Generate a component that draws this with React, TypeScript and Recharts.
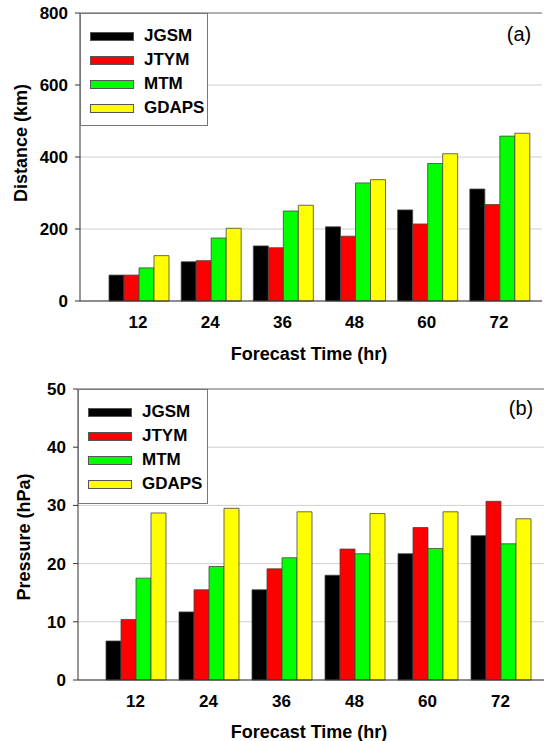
import React from "react";
import { BarChart, Bar, XAxis, YAxis, CartesianGrid, Legend, ReferenceLine } from "recharts";

const categories = ["12", "24", "36", "48", "60", "72"];
const seriesNames = ["JGSM", "JTYM", "MTM", "GDAPS"];
const seriesColors = ["#000000", "#ff0000", "#00ff00", "#ffff00"];

const distJGSM = [72, 109, 153, 206, 253, 311];
const distJTYM = [72, 112, 148, 180, 214, 268];
const distMTM = [92, 175, 250, 328, 382, 458];
const distGDAPS = [126, 202, 266, 337, 409, 466];

const presJGSM = [6.7, 11.7, 15.5, 18.0, 21.7, 24.8];
const presJTYM = [10.4, 15.5, 19.1, 22.5, 26.2, 30.7];
const presMTM = [17.5, 19.5, 21.0, 21.7, 22.6, 23.4];
const presGDAPS = [28.7, 29.5, 28.9, 28.6, 28.9, 27.7];

const distTicks = [0, 200, 400, 600, 800];
const presTicks = [0, 10, 20, 30, 40, 50];

const FONT = "'Liberation Sans', Arial, sans-serif";

const toRows = (cols: number[][]) =>
  categories.map((c, i) => {
    const row: Record<string, string | number> = { hr: c };
    seriesNames.forEach((n, j) => (row[n] = cols[j][i]));
    return row;
  });

const renderLegend = (props: any) => {
  const payload = [...((props.payload || []) as { value: string; color: string }[])].sort(
    (a, b) => seriesNames.indexOf(a.value) - seriesNames.indexOf(b.value)
  );
  return (
    <div
      style={{
        width: "100%",
        height: "100%",
        boxSizing: "border-box",
        border: "1px solid #777",
        background: "#fff",
        paddingTop: 10,
        fontFamily: FONT,
      }}
    >
      {payload.map((p) => (
        <div key={p.value} style={{ display: "flex", alignItems: "center", height: 24 }}>
          <div
            style={{
              marginLeft: 9,
              width: 44,
              height: 9,
              background: p.color,
              border: "1px solid #555",
              boxSizing: "border-box",
            }}
          />
          <span style={{ marginLeft: 10, fontSize: 17, fontWeight: "bold", color: "#000" }}>{p.value}</span>
        </div>
      ))}
    </div>
  );
};

interface PanelProps {
  data: Record<string, string | number>[];
  ticks: number[];
  yTitle: string;
  tag: string;
  height: number;
  margin: { top: number; right: number; bottom: number; left: number };
  pad: { left: number; right: number };
  legendBox: { left: number; top: number; width: number; height: number };
  titleX: number;
  titleY: number;
  xTitleX: number;
  xTitleY: number;
  tagX: number;
  tagY: number;
  gap: number;
}

function Panel(p: PanelProps) {
  const max = p.ticks[p.ticks.length - 1];
  return (
    <BarChart width={544} height={p.height} data={p.data} margin={p.margin} barGap={0} barCategoryGap={p.gap}>
      <CartesianGrid vertical={false} stroke="#cfcfcf" />
      <ReferenceLine y={max} stroke="#777" />
      <XAxis
        dataKey="hr"
        padding={p.pad}
        tickLine={false}
        tickSize={0}
        tickMargin={15}
        axisLine={{ stroke: "#333" }}
        tick={{ fill: "#000", fontSize: 17, fontWeight: "bold", fontFamily: FONT }}
      />
      <YAxis
        width={60}
        domain={[0, max]}
        ticks={p.ticks}
        tickSize={5}
        tickMargin={7}
        axisLine={{ stroke: "#333" }}
        tickLine={{ stroke: "#333" }}
        tick={{ fill: "#000", fontSize: 17, fontWeight: "bold", fontFamily: FONT }}
      />
      <YAxis yAxisId="frame" orientation="right" width={0} tick={false} tickLine={false} axisLine={{ stroke: "#555" }} />
      <Legend
        verticalAlign="middle"
        align="center"
        layout="vertical"
        content={renderLegend}
        wrapperStyle={{ ...p.legendBox }}
      />
      {seriesNames.map((n, i) => (
        <Bar key={n} dataKey={n} fill={seriesColors[i]} stroke="#444" strokeWidth={0.8} isAnimationActive={false} />
      ))}
      <text
        x={p.titleX}
        y={p.titleY}
        transform={`rotate(-90 ${p.titleX} ${p.titleY})`}
        textAnchor="middle"
        dominantBaseline="central"
        fontFamily={FONT}
        fontWeight="bold"
        fontSize={18}
        fill="#000"
      >
        {p.yTitle}
      </text>
      <text
        x={p.xTitleX}
        y={p.xTitleY}
        textAnchor="middle"
        dominantBaseline="central"
        fontFamily={FONT}
        fontWeight="bold"
        fontSize={18}
        fill="#000"
      >
        Forecast Time (hr)
      </text>
      <text x={p.tagX} y={p.tagY} textAnchor="middle" dominantBaseline="central" fontFamily={FONT} fontSize={20} fill="#000">
        {p.tag}
      </text>
    </BarChart>
  );
}

export default function App() {
  const distData = toRows([distJGSM, distJTYM, distMTM, distGDAPS]);
  const presData = toRows([presJGSM, presJTYM, presMTM, presGDAPS]);
  return (
    <div style={{ position: "absolute", left: 0, top: 0, width: 544, height: 741, background: "#fff" }}>
      <Panel
        data={distData}
        ticks={distTicks}
        yTitle="Distance (km)"
        tag="(a)"
        height={370}
        margin={{ top: 13, right: 2, bottom: 39, left: 20 }}
        pad={{ left: 22, right: 7 }}
        legendBox={{ left: 80, top: 13, width: 128, height: 113 }}
        titleX={21}
        titleY={143}
        xTitleX={309}
        xTitleY={354}
        tagX={519}
        tagY={34}
        gap={7}
      />
      <Panel
        data={presData}
        ticks={presTicks}
        yTitle="Pressure (hPa)"
        tag="(b)"
        height={371}
        margin={{ top: 19, right: 0, bottom: 31, left: 18 }}
        pad={{ left: 21, right: 7 }}
        legendBox={{ left: 78, top: 19, width: 130, height: 115 }}
        titleX={24}
        titleY={167}
        xTitleX={309}
        xTitleY={362}
        tagX={521}
        tagY={38}
        gap={7}
      />
    </div>
  );
}
